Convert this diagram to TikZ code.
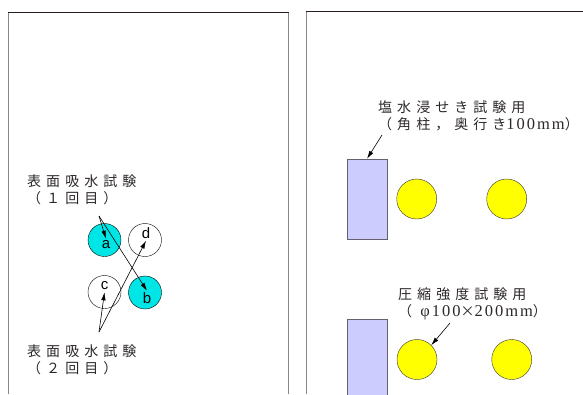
\documentclass[tikz,border=0pt]{standalone}
\usepackage{fontspec}
\usepackage{xcolor}
\setmainfont{Liberation Serif}
\newfontfamily\jpfont[LetterSpace=36]{Noto Sans CJK JP}
\newfontfamily\numfont[LetterSpace=12]{Liberation Serif}
\newfontfamily\tagfont{Liberation Sans}
\usetikzlibrary{arrows.meta}

\definecolor{frametop}{RGB}{40,30,30}
\definecolor{frameside}{RGB}{140,135,135}
\definecolor{wetcyan}{RGB}{0,230,230}
\definecolor{prismblue}{RGB}{204,204,255}
\definecolor{prismedge}{RGB}{100,95,110}
\definecolor{cylyellow}{RGB}{255,255,0}
\definecolor{inktext}{RGB}{45,40,40}

\newcommand{\num}[1]{{\numfont\fontsize{16.5}{17}\selectfont #1}}

\tikzset{
  wet/.style={circle, draw, fill=wetcyan, minimum size=33pt, inner sep=0pt},
  dry/.style={circle, draw, fill=white, minimum size=33pt, inner sep=0pt},
  tag/.style={inner sep=2pt, font=\tagfont\fontsize{15}{15}\selectfont},
  prism/.style={rectangle, draw=prismedge, fill=prismblue, minimum width=40pt, minimum height=80pt, inner sep=0pt},
  cyl/.style={circle, draw=black!80, fill=cylyellow, minimum size=40pt, inner sep=0pt},
  note/.style={align=left, anchor=north west, inner sep=0pt, text=inktext, font=\jpfont\fontsize{14}{17}\selectfont},
  pointer/.style={draw=black, line width=0.6pt, -{Latex[length=8pt,width=4.5pt]}}
}

\begin{document}
\begin{tikzpicture}[x=1pt,y=-1pt]
  \useasboundingbox (0,0) rectangle (583,394);

  % frames
  \draw[frameside, line width=1.4pt] (8.5,394) -- (8.5,12.5);
  \draw[frameside, line width=1.4pt] (288.5,394) -- (288.5,12.5);
  \draw[frametop, line width=1pt] (8,12.5) -- (289,12.5);
  \draw[frameside, line width=1.4pt] (306.5,394) -- (306.5,11.5);
  \draw[frametop, line width=1pt] (306,11.5) -- (583,11.5);

  % water absorption specimens
  \node[wet] (ca) at (104.5,240) {};
  \node[dry] (cd) at (145,240) {};
  \node[dry] (cc) at (104.5,292) {};
  \node[wet] (cb) at (145,292.5) {};
  \node[tag] (la) at (106,245) {a};
  \node[tag] (ld) at (146,233) {d};
  \node[tag] (lc) at (104.5,286) {c};
  \node[tag] (lb) at (147,298.5) {b};

  \node[note] (first) at (27,175) {表面吸水試験\\（１回目）};
  \node[note] (second) at (27,345) {表面吸水試験\\（２回目）};
  \coordinate (f0) at (99,216);
  \coordinate (s0) at (99,332);
  \draw[pointer] (f0) -- (la.north);
  \draw[pointer] (f0) -- (lb.north);
  \draw[pointer] (s0) -- (lc.south);
  \draw[pointer] (s0) -- (ld.south);

  % salt water and compression specimens
  \node[prism] (p1) at (367,199) {};
  \node[prism] (p2) at (367,359) {};
  \node[cyl] (y1) at (416.7,199) {};
  \node[cyl] (y2) at (506.7,199) {};
  \node[cyl] (y3) at (417,359.5) {};
  \node[cyl] (y4) at (511.7,359.5) {};

  \node[note] (salt) at (378,101) {塩水浸せき試験用\\（角柱，奥行き\num{100mm}）};
  \node[note] (comp) at (398,287) {圧縮強度試験用\\（ \num{φ100}×\num{200mm}）};
  \coordinate (p0) at (382,135);
  \coordinate (c0) at (450,323);
  \draw[pointer] (p0) -- (p1.north);
  \draw[pointer] (c0) -- (y3.north east);
\end{tikzpicture}
\end{document}
